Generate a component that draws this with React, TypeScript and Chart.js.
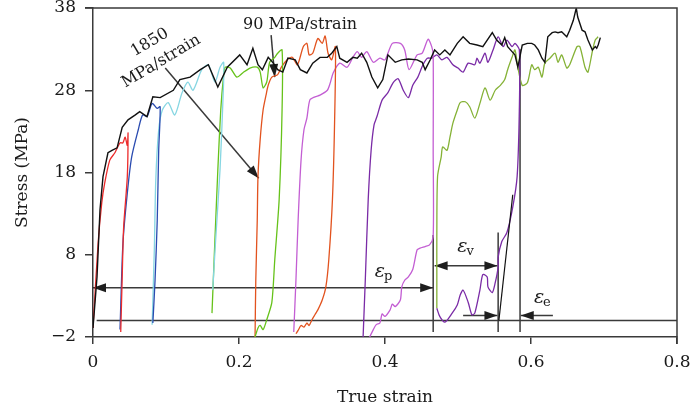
import React, { useEffect, useRef } from 'react';
import { Chart, registerables } from 'chart.js';

Chart.register(...registerables);

const FONT = '"DejaVu Serif", serif';

// axis ranges / ticks
const xRange = [0, 0.8];
const yRange = [-2, 38];
const xStep = 0.2;
const yStep = 10;

// monotonic loading curve (black)
const envelope: [number, number][] = [
  [0, -0.9], [0.0055, 5.3], [0.0096, 13.5], [0.0137, 17.5], [0.0205, 20.4], [0.026, 20.7], [0.033, 21.0],
  [0.040, 23.5], [0.048, 24.4], [0.058, 25.0], [0.064, 25.4], [0.074, 24.8], [0.082, 27.2], [0.092, 27.1],
  [0.110, 28.0], [0.119, 29.3], [0.133, 29.6], [0.147, 30.5], [0.158, 31.1], [0.171, 28.4], [0.184, 30.8],
  [0.201, 32.3], [0.211, 31.1], [0.219, 33.1], [0.226, 31.1], [0.232, 30.5], [0.240, 32.0], [0.247, 31.3],
  [0.253, 30.5], [0.260, 30.2], [0.267, 31.9], [0.277, 31.7], [0.284, 30.5], [0.293, 30.1], [0.301, 31.3],
  [0.311, 32.0], [0.321, 32.0], [0.327, 32.5], [0.334, 33.3], [0.338, 31.9], [0.348, 31.4], [0.356, 32.0],
  [0.362, 31.9], [0.368, 32.5], [0.375, 31.4], [0.382, 29.6], [0.390, 28.3], [0.397, 29.3], [0.404, 32.3],
  [0.414, 31.4], [0.423, 31.7], [0.432, 31.8], [0.444, 31.7], [0.451, 31.4], [0.455, 30.5], [0.462, 31.7],
  [0.468, 32.9], [0.475, 32.3], [0.482, 32.9], [0.489, 32.3], [0.499, 33.7], [0.507, 34.5], [0.516, 33.7],
  [0.526, 33.5], [0.534, 33.3], [0.547, 35.0], [0.553, 34.1], [0.560, 33.5], [0.564, 34.4], [0.568, 33.3],
  [0.574, 32.7], [0.578, 32.3], [0.582, 30.8], [0.588, 33.5], [0.595, 33.7], [0.601, 33.7], [0.605, 33.5],
  [0.610, 32.9], [0.615, 31.9], [0.619, 31.4], [0.623, 34.5], [0.629, 35.0], [0.633, 35.1], [0.637, 35.0],
  [0.642, 35.1], [0.649, 34.5], [0.653, 35.3], [0.658, 36.5], [0.662, 38.0], [0.664, 36.9], [0.670, 35.3],
  [0.674, 35.1], [0.678, 34.1], [0.684, 32.9], [0.688, 33.3], [0.690, 33.1], [0.692, 33.5], [0.695, 34.4],
];

const cycle1Red: [number, number][] = [
  [0, -0.9], [0.007, 9.4], [0.012, 14.3], [0.016, 16.7], [0.023, 19.5], [0.030, 20.4], [0.037, 21.6],
  [0.041, 21.6], [0.044, 22.3], [0.047, 21.3], [0.048, 22.8], [0.047, 17.5], [0.042, 11.4], [0.040, 5.3],
  [0.038, -1.4],
];

const cycle2Blue: [number, number][] = [
  [0.037, -1.1], [0.041, 9.4], [0.047, 15.5], [0.053, 19.9], [0.062, 23.2], [0.068, 25.0], [0.074, 24.8],
  [0.081, 26.4], [0.088, 25.8], [0.092, 26.0], [0.090, 20.7], [0.088, 12.2], [0.085, 4.9], [0.082, -0.3],
];

const cycle3Cyan: [number, number][] = [
  [0.081, -0.5], [0.084, 8.6], [0.086, 17.1], [0.090, 23.2], [0.095, 25.6], [0.103, 26.5], [0.112, 25.0],
  [0.122, 27.7], [0.130, 29.0], [0.137, 28.0], [0.149, 30.5], [0.158, 31.1], [0.167, 29.0], [0.174, 30.8],
  [0.179, 31.4], [0.178, 26.8], [0.174, 18.3], [0.168, 9.8], [0.164, 3.7],
];

const cycle4Green: [number, number][] = [
  [0.163, 0.9], [0.167, 9.8], [0.171, 18.3], [0.175, 25.6], [0.179, 29.9], [0.181, 30.8], [0.188, 30.7],
  [0.197, 29.6], [0.205, 30.1], [0.215, 30.7], [0.225, 30.8], [0.229, 30.2], [0.233, 28.3], [0.238, 29.0],
  [0.242, 31.4], [0.249, 32.0], [0.253, 32.5], [0.259, 32.9], [0.259, 25.6], [0.255, 14.7], [0.249, 7.4],
  [0.245, 2.2], [0.238, 0.1], [0.233, -1.1], [0.229, -0.6], [0.226, -0.9], [0.222, -2.0],
];

const cycle5Orange: [number, number][] = [
  [0.222, -2.0], [0.223, 4.9], [0.225, 12.2], [0.226, 17.5], [0.229, 22.0], [0.233, 25.6], [0.237, 27.4],
  [0.240, 28.6], [0.245, 29.6], [0.253, 29.9], [0.258, 30.8], [0.266, 31.7], [0.273, 32.0], [0.280, 31.1],
  [0.288, 33.3], [0.293, 33.7], [0.296, 32.3], [0.301, 32.5], [0.308, 34.3], [0.314, 33.7], [0.318, 34.6],
  [0.322, 32.5], [0.327, 31.7], [0.332, 33.3], [0.331, 24.4], [0.328, 14.7], [0.323, 7.4], [0.319, 4.1],
  [0.314, 2.5], [0.308, 1.3], [0.304, 0.7], [0.300, 0.1], [0.296, -0.6], [0.293, -0.3], [0.289, -0.8],
  [0.285, -0.6], [0.281, -1.2], [0.278, -1.6],
];

const cycle6Magenta: [number, number][] = [
  [0.275, -1.4], [0.278, 4.9], [0.281, 12.2], [0.285, 19.5], [0.289, 23.2], [0.293, 24.6], [0.297, 26.8],
  [0.304, 27.2], [0.311, 27.4], [0.321, 28.0], [0.325, 28.9], [0.329, 30.1], [0.338, 31.3], [0.348, 30.8],
  [0.356, 32.0], [0.362, 32.7], [0.368, 32.0], [0.375, 32.7], [0.384, 31.4], [0.393, 31.9], [0.400, 31.7],
  [0.410, 33.7], [0.421, 33.7], [0.427, 32.9], [0.433, 30.5], [0.444, 32.3], [0.451, 32.5], [0.459, 34.2],
  [0.464, 33.3], [0.466, 32.3], [0.466, 20.7], [0.466, 10.2], [0.461, 9.2], [0.455, 9.0], [0.448, 8.8],
  [0.444, 8.6], [0.438, 6.2], [0.432, 5.3], [0.427, 4.9], [0.423, 4.1], [0.421, 2.5], [0.414, 1.7],
  [0.410, 2.0], [0.407, 1.3], [0.400, 0.5], [0.396, 0.8], [0.393, -0.3], [0.388, -0.5], [0.384, -1.1],
  [0.379, -2.0],
];

const cycle7Purple: [number, number][] = [
  [0.370, -2.0], [0.373, 4.9], [0.377, 14.7], [0.381, 20.7], [0.385, 23.8], [0.389, 24.8], [0.396, 26.8],
  [0.404, 27.7], [0.411, 28.9], [0.418, 29.4], [0.425, 28.0], [0.432, 27.1], [0.438, 28.6], [0.445, 29.6],
  [0.452, 31.1], [0.458, 31.9], [0.464, 31.9], [0.471, 32.3], [0.478, 31.7], [0.485, 32.0], [0.493, 31.1],
  [0.500, 30.7], [0.507, 30.2], [0.514, 31.3], [0.523, 31.1], [0.526, 31.9], [0.530, 31.3], [0.537, 32.5],
  [0.541, 31.4], [0.548, 32.9], [0.555, 34.5], [0.562, 33.3], [0.567, 34.1], [0.574, 33.3], [0.578, 33.7],
  [0.584, 32.9], [0.584, 25.6], [0.581, 17.5], [0.575, 13.8], [0.567, 10.7], [0.560, 9.6], [0.555, 7.7],
  [0.555, 6.5], [0.551, 4.6], [0.547, 3.4], [0.541, 4.1], [0.540, 5.3], [0.534, 5.6], [0.530, 3.7],
  [0.523, 0.9], [0.519, 0.7], [0.514, 2.2], [0.507, 3.7], [0.503, 3.1], [0.499, 1.9], [0.492, 0.9],
  [0.482, -0.2], [0.475, 0.5], [0.471, 1.5],
];

const cycle8Olive: [number, number][] = [
  [0.471, 1.5], [0.471, 6.2], [0.471, 10.2], [0.472, 17.5], [0.477, 19.9], [0.479, 21.1], [0.485, 20.7],
  [0.489, 22.3], [0.493, 24.0], [0.499, 25.6], [0.503, 26.5], [0.510, 26.6], [0.516, 26.0], [0.523, 24.6],
  [0.530, 26.4], [0.537, 28.3], [0.544, 26.8], [0.551, 28.0], [0.558, 28.6], [0.564, 29.3], [0.568, 30.5],
  [0.574, 32.0], [0.578, 32.9], [0.582, 30.8], [0.588, 28.6], [0.595, 28.9], [0.601, 31.1], [0.605, 30.5],
  [0.610, 30.8], [0.615, 29.6], [0.619, 31.3], [0.626, 31.9], [0.633, 32.5], [0.637, 31.4], [0.642, 32.3],
  [0.649, 30.7], [0.653, 31.1], [0.663, 33.3], [0.667, 33.3], [0.674, 30.8], [0.678, 30.2], [0.684, 32.7],
  [0.688, 34.1], [0.692, 34.5],
];

const elasticLine: [number, number][] = [[0.556, 0.0], [0.575, 15.3]];

// annotation geometry (data coordinates)
type Seg = { from: [number, number]; to: [number, number]; headStart?: boolean; headEnd?: boolean };
const annotationSegments: Seg[] = [
  { from: [0.0, 4.0], to: [0.466, 4.0], headStart: true, headEnd: true },
  { from: [0.005, 0.0], to: [0.8, 0.0] },
  { from: [0.466, 10.4], to: [0.466, -1.4] },
  { from: [0.555, 10.7], to: [0.555, -1.4] },
  { from: [0.585, 33.0], to: [0.585, -1.4] },
  { from: [0.468, 6.65], to: [0.554, 6.65], headStart: true, headEnd: true },
  { from: [0.507, 0.6], to: [0.554, 0.6], headEnd: true },
  { from: [0.630, 0.6], to: [0.586, 0.6], headEnd: true },
  { from: [0.099, 30.7], to: [0.227, 17.3], headEnd: true },
  { from: [0.244, 34.7], to: [0.249, 29.6], headEnd: true },
];

const strainLabels = [
  { main: 'ε', sub: 'p', at: [0.386, 5.3] },
  { main: 'ε', sub: 'v', at: [0.499, 8.35] },
  { main: 'ε', sub: 'e', at: [0.604, 2.15] },
];

const slopeLabel90 = { text: '90 MPa/strain', at: [0.2836, 36.0] };
const slopeLabel1850 = { lines: ['1850', 'MPa/strain'], at: [0.0856, 32.65], angleDeg: -31 };

const toXY = (arr: [number, number][]) => arr.map(([x, y]) => ({ x, y }));

const annotationPlugin = {
  id: 'annotations',
  beforeDatasetsDraw(chart: any) {
    const { ctx } = chart;
    const xs = chart.scales.x;
    const ys = chart.scales.y;
    const P = (p: [number, number]) => [xs.getPixelForValue(p[0]), ys.getPixelForValue(p[1])];
    ctx.save();
    ctx.strokeStyle = '#3a3a3a';
    ctx.fillStyle = '#1e1e1e';
    ctx.lineWidth = 1.5;
    const head = (tip: number[], tail: number[]) => {
      const ang = Math.atan2(tip[1] - tail[1], tip[0] - tail[0]);
      const L = 13, W = 4.5;
      ctx.beginPath();
      ctx.moveTo(tip[0], tip[1]);
      ctx.lineTo(tip[0] - L * Math.cos(ang) + W * Math.sin(ang), tip[1] - L * Math.sin(ang) - W * Math.cos(ang));
      ctx.lineTo(tip[0] - L * Math.cos(ang) - W * Math.sin(ang), tip[1] - L * Math.sin(ang) + W * Math.cos(ang));
      ctx.closePath();
      ctx.fill();
    };
    for (const s of annotationSegments) {
      const a = P(s.from);
      const b = P(s.to);
      ctx.beginPath();
      ctx.moveTo(a[0], a[1]);
      ctx.lineTo(b[0], b[1]);
      ctx.stroke();
      if (s.headEnd) head(b, a);
      if (s.headStart) head(a, b);
    }
    ctx.restore();
  },
  afterDatasetsDraw(chart: any) {
    const { ctx, chartArea } = chart;
    const xs = chart.scales.x;
    const ys = chart.scales.y;
    const P = (p: number[]) => [xs.getPixelForValue(p[0]), ys.getPixelForValue(p[1])];
    ctx.save();
    // top and right frame
    ctx.strokeStyle = '#3a3a3a';
    ctx.lineWidth = 1.5;
    ctx.beginPath();
    ctx.moveTo(chartArea.left - 8, chartArea.top);
    ctx.lineTo(chartArea.right, chartArea.top);
    ctx.lineTo(chartArea.right, chartArea.bottom + 7);
    ctx.stroke();

    ctx.fillStyle = '#1a1a1a';
    // epsilon labels
    for (const l of strainLabels) {
      const [px, py] = P(l.at);
      ctx.font = `italic 19px ${FONT}`;
      ctx.textAlign = 'left';
      ctx.textBaseline = 'alphabetic';
      ctx.fillText(l.main, px, py);
      const w = ctx.measureText(l.main).width;
      ctx.font = `13px ${FONT}`;
      ctx.fillText(l.sub, px + w - 1, py + 3);
    }
    // 90 MPa/strain
    {
      const [px, py] = P(slopeLabel90.at);
      ctx.font = `16px ${FONT}`;
      ctx.textAlign = 'center';
      ctx.textBaseline = 'middle';
      ctx.fillText(slopeLabel90.text, px, py);
    }
    // 1850 MPa/strain rotated
    {
      const [px, py] = P(slopeLabel1850.at);
      ctx.translate(px, py);
      ctx.rotate((slopeLabel1850.angleDeg * Math.PI) / 180);
      ctx.font = `16px ${FONT}`;
      ctx.textAlign = 'center';
      ctx.textBaseline = 'middle';
      ctx.fillText(slopeLabel1850.lines[0], 0, -11);
      ctx.fillText(slopeLabel1850.lines[1], 0, 11);
    }
    ctx.restore();
  },
};

const fmt = (v: number) => String(Math.round(v * 10) / 10).replace('-', '\u2212');

export default function App() {
  const ref = useRef<HTMLCanvasElement | null>(null);
  useEffect(() => {
    if (!ref.current) return;
    const line = (data: [number, number][], color: string, width = 1.3, tension = 0.25) => ({
      data: toXY(data),
      borderColor: color,
      backgroundColor: color,
      borderWidth: width,
      pointRadius: 0,
      showLine: true,
      tension,
      fill: false,
    });
    const chart = new Chart(ref.current, {
      type: 'scatter',
      data: {
        datasets: [
          line(envelope, '#111111', 1.4, 0),
          line(elasticLine, '#111111', 1.2, 0),
          line(cycle1Red, '#ec2b2b'),
          line(cycle2Blue, '#2a4bb0'),
          line(cycle3Cyan, '#86d6e2'),
          line(cycle4Green, '#66c21a'),
          line(cycle5Orange, '#e2531f'),
          line(cycle6Magenta, '#c35ed3'),
          line(cycle7Purple, '#7a2ba6'),
          line(cycle8Olive, '#85b236'),
        ],
      },
      options: {
        responsive: false,
        animation: false,
        devicePixelRatio: 1,
        layout: { padding: { top: 8, right: 13, left: 0, bottom: 0 } },
        plugins: { legend: { display: false }, tooltip: { enabled: false } },
        scales: {
          x: {
            type: 'linear',
            min: xRange[0],
            max: xRange[1],
            ticks: {
              stepSize: xStep,
              callback: (v: any) => fmt(Number(v)),
              font: { family: FONT, size: 17 },
              color: '#1a1a1a',
              padding: 8,
              maxRotation: 0,
            },
            grid: { display: true, drawOnChartArea: false, drawTicks: true, tickLength: 7, color: '#3a3a3a', lineWidth: 1.5 },
            border: { display: true, color: '#3a3a3a', width: 1.5 },
            title: { display: true, text: 'True strain', font: { family: FONT, size: 17 }, color: '#1a1a1a', padding: { top: 0, bottom: 9 } },
            afterFit: (s: any) => {
              s.height = 80;
              s.paddingLeft = 0;
              s.paddingRight = 0;
            },
          },
          y: {
            type: 'linear',
            min: yRange[0],
            max: yRange[1],
            ticks: {
              stepSize: yStep,
              callback: (v: any) => fmt(Number(v)),
              font: { family: FONT, size: 17 },
              color: '#1a1a1a',
              padding: 9,
            },
            grid: { display: true, drawOnChartArea: false, drawTicks: true, tickLength: 8, color: '#3a3a3a', lineWidth: 1.5 },
            border: { display: true, color: '#3a3a3a', width: 1.5 },
            title: { display: true, text: 'Stress (MPa)', font: { family: FONT, size: 17 }, color: '#1a1a1a', padding: { top: 12, bottom: 0 } },
            afterFit: (s: any) => {
              s.width = 93;
              s.paddingTop = 0;
              s.paddingBottom = 0;
            },
          },
        },
      } as any,
      plugins: [annotationPlugin],
    });
    return () => chart.destroy();
  }, []);
  return (
    <div style={{ position: 'fixed', left: 0, top: 0, width: 690, height: 417, background: '#fff' }}>
      <canvas ref={ref} width={690} height={417} style={{ display: 'block' }} />
    </div>
  );
}
